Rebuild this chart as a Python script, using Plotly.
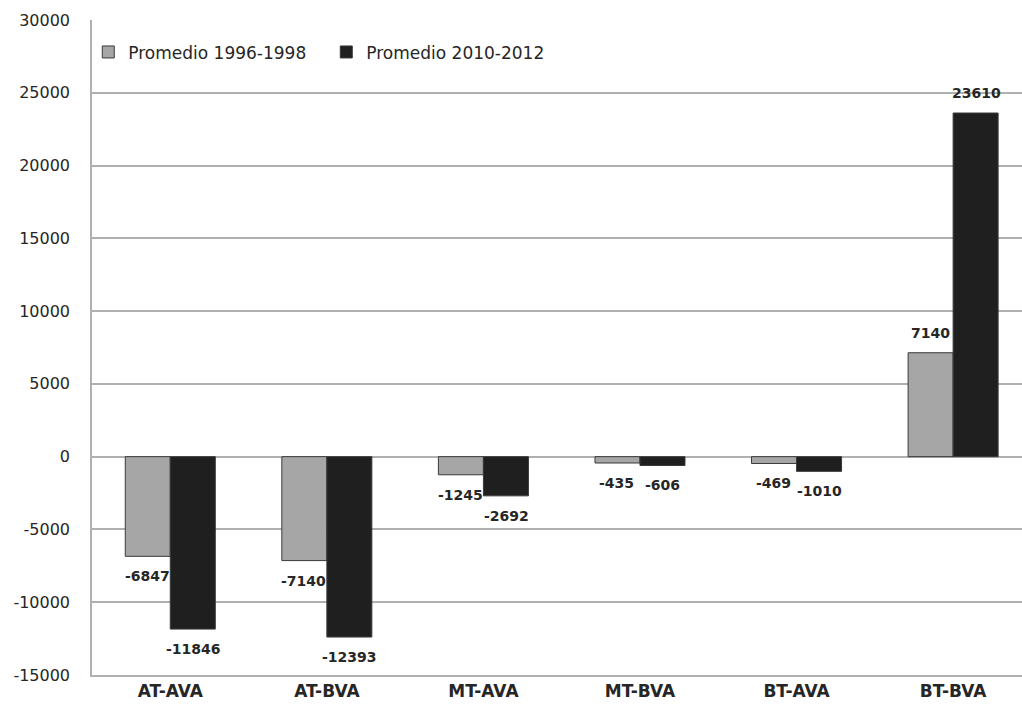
import plotly.graph_objects as go

categories = ["AT-AVA", "AT-BVA", "MT-AVA", "MT-BVA", "BT-AVA", "BT-BVA"]
promedio_1996_1998 = [-6847, -7140, -1245, -435, -469, 7140]
promedio_2010_2012 = [-11846, -12393, -2692, -606, -1010, 23610]
y_ticks = [30000, 25000, 20000, 15000, 10000, 5000, 0, -5000, -10000, -15000]

GRAY = "#a6a6a6"
BLACK = "#1f1f1f"
GRID = "#b0b0b0"
TEXT = "#262626"
FONT = "DejaVu Sans"

fig = go.Figure()
fig.add_trace(go.Bar(
    x=categories, y=promedio_1996_1998, name="Promedio 1996-1998",
    marker=dict(color=GRAY, line=dict(color="#3a3a3a", width=1)),
))
fig.add_trace(go.Bar(
    x=categories, y=promedio_2010_2012, name="Promedio 2010-2012",
    marker=dict(color=BLACK, line=dict(color="#3a3a3a", width=1)),
))

# value labels, offset beyond the bar ends
label_font = dict(family=FONT, size=14, color=TEXT, weight="bold")
for i, cat in enumerate(categories):
    for vals, xs in ((promedio_1996_1998, -23), (promedio_2010_2012, 23)):
        v = vals[i]
        fig.add_annotation(
            x=cat, y=v, text=str(v), showarrow=False,
            xshift=xs, yshift=20 if v > 0 else -20,
            font=label_font,
        )

fig.update_layout(
    width=1022, height=706,
    margin=dict(l=92, r=0, t=20, b=31),
    paper_bgcolor="white", plot_bgcolor="white",
    barmode="group", bargap=0.425, bargroupgap=0,
    font=dict(family=FONT, size=17, color=TEXT),
    showlegend=True,
    legend=dict(
        orientation="h", x=-0.004, y=0.978, xanchor="left", yanchor="top",
        bgcolor="rgba(0,0,0,0)", font=dict(family=FONT, size=17, color=TEXT),
        itemwidth=30, entrywidth=193, entrywidthmode="pixels",
        traceorder="normal",
    ),
    xaxis=dict(
        range=[-0.5, 5.44], showgrid=False, showline=True,
        linecolor=GRID, linewidth=1.5, ticks="",
        tickfont=dict(family=FONT, size=17, color=TEXT, weight="bold"),
    ),
    yaxis=dict(
        range=[-15000, 30000], tickvals=y_ticks,
        ticktext=[str(t) for t in y_ticks],
        showgrid=True, gridcolor=GRID, gridwidth=1.5,
        zeroline=True, zerolinecolor=GRID, zerolinewidth=1.5,
        showline=True, linecolor=GRID, linewidth=1.5,
        ticks="", ticklen=0, ticklabelstandoff=17,
        tickfont=dict(family=FONT, size=16, color=TEXT),
    ),
)

fig.write_html("out.html")
